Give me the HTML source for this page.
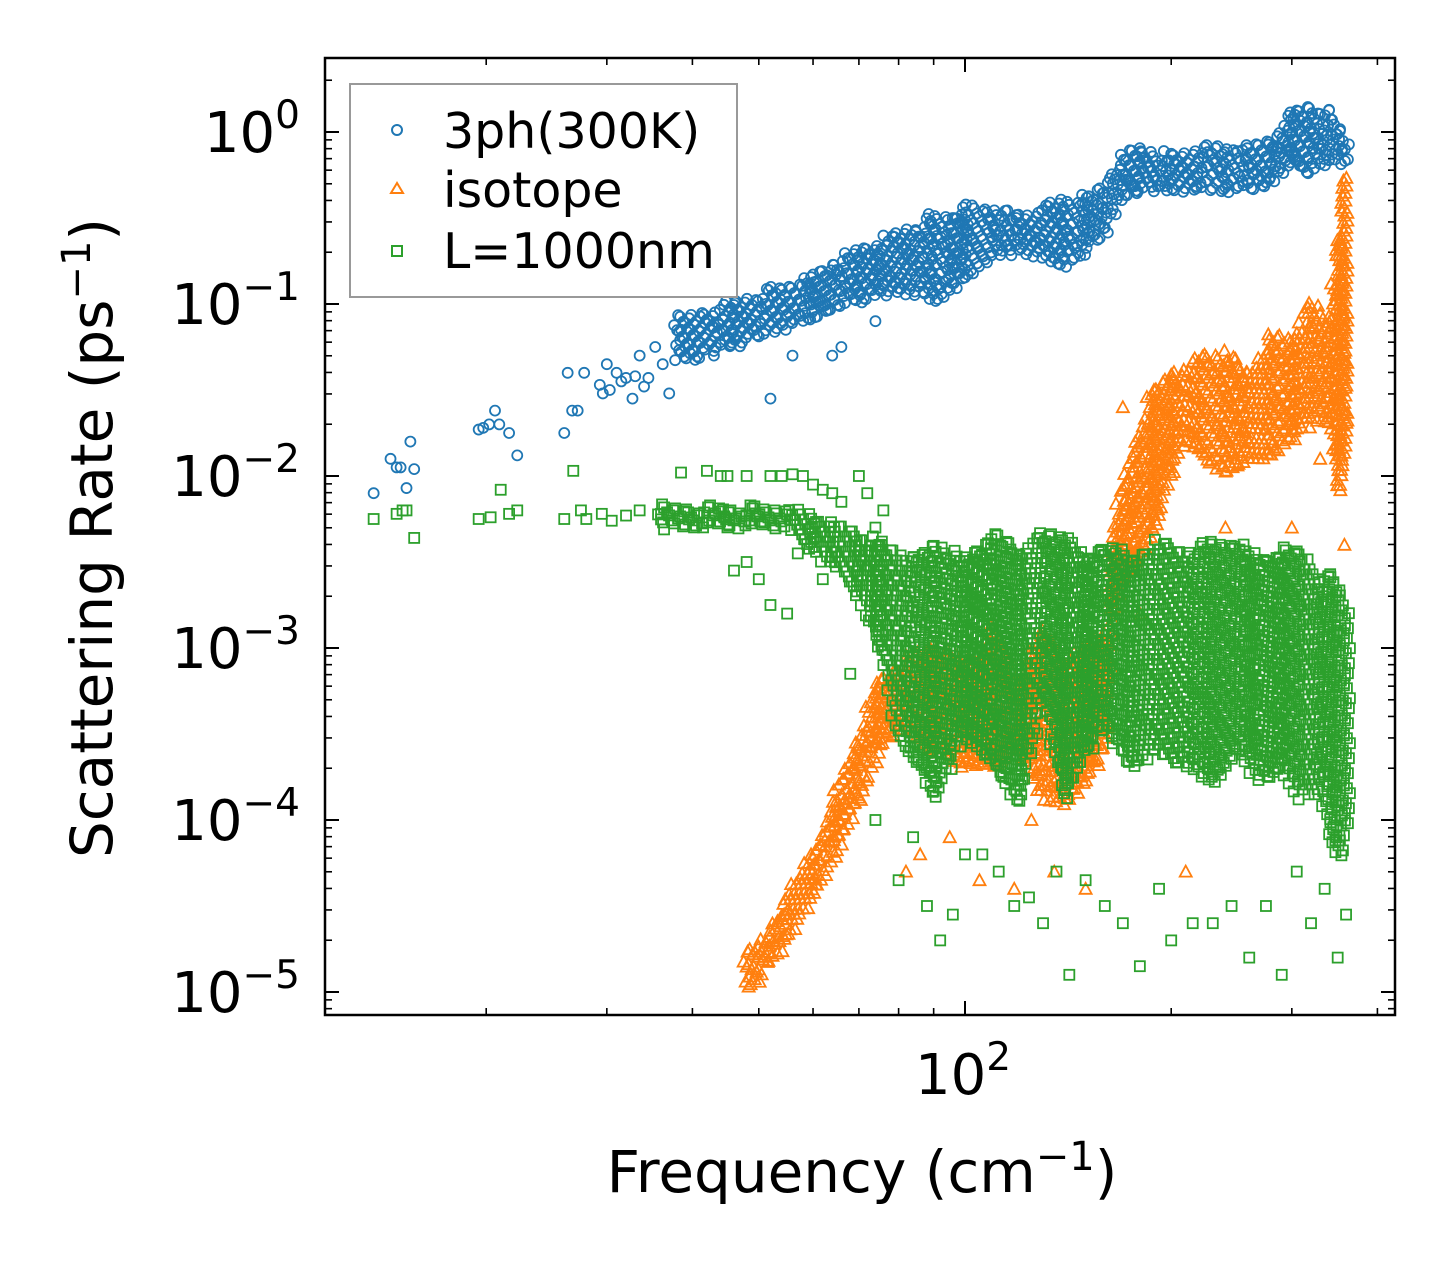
<!DOCTYPE html>
<html><head><meta charset="utf-8"><style>
html,body{margin:0;padding:0;background:#fff;}
svg{display:block;font-family:"DejaVu Sans","Liberation Sans",sans-serif;}
</style></head><body>
<svg id="chart" width="1455" height="1265" viewBox="0 0 1455 1265" xmlns="http://www.w3.org/2000/svg">
<rect x="0" y="0" width="1455" height="1265" fill="#fff"/>
<g id="marks"></g>
<g id="axes"></g>
<text x="0" y="0" font-size="58" text-anchor="middle" transform="translate(112,538) rotate(-90)">Scattering Rate (ps<tspan dy="-22" font-size="40">−1</tspan><tspan dy="22">)</tspan></text>
<text x="862" y="1192" font-size="58" text-anchor="middle">Frequency (cm<tspan dy="-22" font-size="40">−1</tspan><tspan dy="22">)</tspan></text>
<g>
<rect x="350" y="84" width="387" height="213" fill="#fff" stroke="#999" stroke-width="2"/>
<circle cx="397" cy="130" r="5" fill="none" stroke="#1f77b4" stroke-width="2"/>
<text x="443" y="148" font-size="49">3ph(300K)</text>
<polygon points="397,183 391,193 403,193" fill="none" stroke="#ff7f0e" stroke-width="2"/>
<text x="443" y="207" font-size="49">isotope</text>
<rect x="392" y="246" width="10" height="10" fill="none" stroke="#2ca02c" stroke-width="2"/>
<text x="443" y="268" font-size="49">L=1000nm</text>
</g>
</svg>
<script>
// ---- data (frequency in cm^-1, rates as log10(ps^-1)) ----
const blueBandF  = [38,42,46,50,55,60,65,70,75,80,85,90,95,100,110,120,130,140,150,160,170,180,200,220,240,260,280,300,320,340,355,365];
const blueBandLo = [-1.35,-1.3,-1.25,-1.2,-1.15,-1.1,-1.05,-1.0,-0.95,-0.95,-0.95,-1.0,-0.95,-0.85,-0.75,-0.7,-0.75,-0.8,-0.7,-0.6,-0.4,-0.35,-0.35,-0.35,-0.35,-0.35,-0.3,-0.2,-0.25,-0.2,-0.2,-0.15];
const blueBandHi = [-1.1,-1.05,-1.0,-0.95,-0.9,-0.85,-0.75,-0.7,-0.65,-0.6,-0.55,-0.5,-0.5,-0.45,-0.45,-0.5,-0.45,-0.4,-0.4,-0.3,-0.15,-0.1,-0.15,-0.1,-0.1,-0.1,-0.05,0.1,0.15,0.1,0.0,-0.1];
const blueF = [13.7,14.5,14.8,15.0,15.3,15.5,15.7,19.5,19.8,20.2,20.6,20.9,21.6,22.2,26,26.3,26.7,27.2,27.8,29.3,29.6,30,30.3,31,31.5,32,32.7,33,33.5,34,34.5,35.3,36.2,37,38.5,43,52,56,64,66,74];
const blueR = [-2.1,-1.9,-1.95,-1.95,-2.07,-1.8,-1.96,-1.73,-1.72,-1.7,-1.62,-1.7,-1.75,-1.88,-1.75,-1.4,-1.62,-1.62,-1.4,-1.47,-1.52,-1.35,-1.5,-1.4,-1.45,-1.43,-1.55,-1.42,-1.3,-1.48,-1.43,-1.25,-1.35,-1.52,-1.15,-1.3,-1.55,-1.3,-1.3,-1.25,-1.1];

const orangeBandF  = [48,52,55,60,65,70,75,80,90,100,110,120,130,140,150,160,165,172,180,190,200,210,220,240,260,280,300,320,340,352,358,362];
const orangeBandLo = [-5.0,-4.85,-4.7,-4.45,-4.2,-3.9,-3.6,-3.5,-3.6,-3.7,-3.7,-3.6,-3.9,-3.9,-3.8,-3.6,-2.8,-2.6,-2.5,-2.3,-2.0,-1.8,-1.9,-2.0,-1.9,-1.9,-1.8,-1.7,-1.7,-2.1,-1.9,-1.6];
const orangeBandHi = [-4.8,-4.65,-4.45,-4.2,-3.85,-3.5,-3.2,-3.1,-3.0,-3.1,-2.9,-3.2,-2.9,-3.1,-3.0,-2.9,-2.3,-2.0,-1.7,-1.5,-1.4,-1.4,-1.3,-1.3,-1.4,-1.2,-1.2,-1.0,-1.1,-0.6,-0.3,-0.6];
const orangeF = [82,86,95,105,118,125,135,150,170,180,210,240,300,330,358];
const orangeR = [-4.3,-4.2,-4.1,-4.35,-4.4,-4.0,-4.3,-4.4,-1.6,-2.8,-4.3,-2.3,-2.3,-1.9,-2.4];

const greenBandF  = [36,45,55,60,65,70,75,80,85,90,100,110,120,130,140,150,160,175,190,210,230,250,270,290,310,330,345,355,362];
const greenBandLo = [-2.3,-2.3,-2.3,-2.45,-2.55,-2.7,-3.0,-3.5,-3.7,-3.9,-3.5,-3.7,-3.9,-3.3,-3.9,-3.6,-3.5,-3.7,-3.6,-3.7,-3.8,-3.6,-3.8,-3.7,-3.9,-3.8,-4.2,-4.2,-4.0];
const greenBandHi = [-2.2,-2.2,-2.2,-2.25,-2.3,-2.35,-2.4,-2.45,-2.5,-2.4,-2.5,-2.35,-2.45,-2.35,-2.35,-2.5,-2.4,-2.5,-2.4,-2.45,-2.4,-2.4,-2.5,-2.45,-2.45,-2.6,-2.6,-2.7,-2.8];
const greenF = [13.7,14.8,15.1,15.3,15.7,19.5,20.3,21,21.6,22.2,26,26.8,27.5,28,29.5,30.5,32,33.5,36,38.5,42,44,45,48,52,54,56,58,60,62,64,66,70,72,74,76,46,48,50,52,55,57,62,68,74,80,84,88,92,96,100,106,112,118,124,130,136,142,150,160,170,180,192,200,215,230,245,260,275,290,305,320,335,350,360];
const greenR = [-2.25,-2.22,-2.2,-2.2,-2.36,-2.25,-2.24,-2.08,-2.22,-2.2,-2.25,-1.97,-2.2,-2.25,-2.22,-2.26,-2.23,-2.2,-2.22,-1.98,-1.97,-2.0,-2.0,-2.0,-2.0,-2.0,-1.99,-2.0,-2.05,-2.08,-2.1,-2.15,-2.0,-2.1,-2.3,-2.2,-2.55,-2.5,-2.6,-2.75,-2.8,-2.45,-2.6,-3.15,-4.0,-4.35,-4.1,-4.5,-4.7,-4.55,-4.2,-4.2,-4.3,-4.5,-4.45,-4.6,-4.3,-4.9,-4.35,-4.5,-4.6,-4.85,-4.4,-4.7,-4.6,-4.6,-4.5,-4.8,-4.5,-4.9,-4.3,-4.6,-4.4,-4.8,-4.55];

const yTickExp = [0,-1,-2,-3,-4,-5];
const xMajor = [100];
const xMinor = [20,30,40,50,60,70,80,90,200,300,400];

// ---- scales ----
const X0=325,X1=1395,Y0=58,Y1=1015;
const xs = f => 965 + 685*Math.log10(f/100);
const ys = l => 132 - 172*l;
const NS='http://www.w3.org/2000/svg';
const marks=document.getElementById('marks');
const axes=document.getElementById('axes');
function mk(tag,attrs,parent){const e=document.createElementNS(NS,tag);for(const k in attrs)e.setAttribute(k,attrs[k]);parent.appendChild(e);return e;}

function marker(kind,x,y,g){
  let e;
  if(kind==='c'){e=mk('circle',{cx:x,cy:y,r:5,fill:'none',stroke:'#1f77b4','stroke-width':1.8},g);}
  else if(kind==='t'){e=mk('polygon',{points:`${x},${y-6} ${x-6},${y+5} ${x+6},${y+5}`,fill:'none',stroke:'#ff7f0e','stroke-width':1.8},g);}
  else {e=mk('rect',{x:x-5,y:y-5,width:10,height:10,fill:'none',stroke:'#2ca02c','stroke-width':1.8},g);}
  return e;
}
function drawBand(F,Lo,Hi,kind,name){
  const g=mk('g',{},marks);
  
  
  let col=0;
  for(let i=0;i<F.length-1;i++){
    const xa=xs(F[i]),xb=xs(F[i+1]);
    for(let x=xa;x<xb;x+=5){
      const t=(x-xa)/(xb-xa);
      const lo=ys(Lo[i]+(Lo[i+1]-Lo[i])*t), hi=ys(Hi[i]+(Hi[i+1]-Hi[i])*t);
      const off=((col*37)%9)-4; col++;
      let k=0;
      for(let y=hi+off;y<=lo;y+=7){
        const jx=((k*17+col*11)%7)-3; k++;
        const jy=((k*23+col*7)%5)-2;
        const m=marker(kind,x+jx,y+jy,g);
        
        
      }
    }
  }
}
function drawPoints(F,R,kind,name){
  const g=mk('g',{},marks);
  
  
  for(let i=0;i<F.length;i++){
    const m=marker(kind,xs(F[i]),ys(R[i]),g);
    
    
  }
}
drawBand(blueBandF,blueBandLo,blueBandHi,'c','series-3ph-band');
drawPoints(blueF,blueR,'c','series-3ph-sparse');
drawBand(orangeBandF,orangeBandLo,orangeBandHi,'t','series-isotope-band');
drawPoints(orangeF,orangeR,'t','series-isotope-sparse');
drawBand(greenBandF,greenBandLo,greenBandHi,'s','series-boundary-band');
drawPoints(greenF,greenR,'s','series-boundary-sparse');

// ---- axes ----
const frame=mk('rect',{x:X0,y:Y0,width:X1-X0,height:Y1-Y0,fill:'none',stroke:'#000','stroke-width':2.5},axes);


function tick(x1,y1,x2,y2,w){mk('line',{x1,y1,x2,y2,stroke:'#000','stroke-width':w},axes);}
yTickExp.forEach(e=>{
  const y=ys(e);
  tick(X0,y,X0+14,y,2);tick(X1,y,X1-14,y,2);
  const t=mk('text',{x:300,y:y+20,'font-size':56,'text-anchor':'end'},axes);
  
  
  t.innerHTML='10<tspan dy="-24" font-size="39">'+(e===0?'0':'−'+(-e))+'</tspan>';
  for(let m=2;m<10;m++){
    const ym=ys(e+Math.log10(m));
    if(ym>Y0&&ym<Y1){tick(X0,ym,X0+7,ym,1.6);tick(X1,ym,X1-7,ym,1.6);}
  }
  if(e===-5){for(let m=2;m<10;m++){const ym=ys(-6+Math.log10(m));if(ym>Y0&&ym<Y1){tick(X0,ym,X0+7,ym,1.6);tick(X1,ym,X1-7,ym,1.6);}}}
});
xMajor.forEach(f=>{
  const x=xs(f);
  tick(x,Y1,x,Y1-14,2);tick(x,Y0,x,Y0+14,2);
  const t=mk('text',{x:x-2,y:1094,'font-size':56,'text-anchor':'middle'},axes);
  
  
  t.innerHTML='10<tspan dy="-24" font-size="39">2</tspan>';
});
xMinor.forEach(f=>{const x=xs(f);tick(x,Y1,x,Y1-7,1.6);tick(x,Y0,x,Y0+7,1.6);});
</script>
</body></html>
